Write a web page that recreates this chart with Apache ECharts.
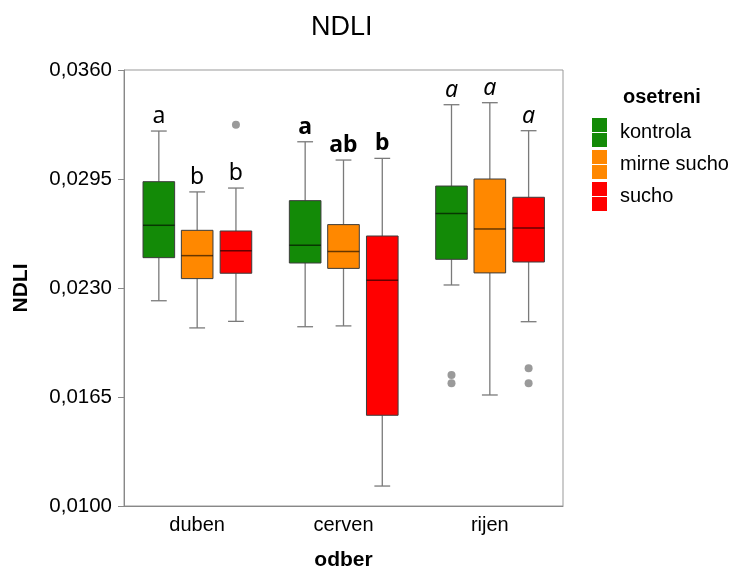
<!DOCTYPE html>
<html><head><meta charset="utf-8">
<script src="https://cdn.jsdelivr.net/npm/echarts@6/dist/echarts.min.js"></script>
<style>html,body{margin:0;padding:0;background:#fff}#c{width:734px;height:570px}</style>
</head><body><div id="c"></div>
<script>
const categories = ['duben', 'cerven', 'rijen'];
const treatments = ['kontrola', 'mirne sucho', 'sucho'];
const yTicks = [0.0100, 0.0165, 0.0230, 0.0295, 0.0360];
// [low whisker, Q1, median, Q3, high whisker] per category
const kontrola   = [[0.02224, 0.02481, 0.02674, 0.02934, 0.03236], [0.02069, 0.02449, 0.02555, 0.02821, 0.03172], [0.02318, 0.02471, 0.02745, 0.02908, 0.03393]];
const mirneSucho = [[0.02062, 0.02356, 0.02493, 0.02644, 0.02873], [0.02074, 0.02417, 0.02517, 0.02678, 0.03063], [0.01662, 0.02390, 0.02652, 0.02950, 0.03405]];
const sucho      = [[0.02101, 0.02388, 0.02522, 0.02640, 0.02896], [0.01119, 0.01541, 0.02346, 0.02610, 0.03073], [0.02099, 0.02455, 0.02658, 0.02841, 0.03238]];
// outliers: [category index, value]
const kontrolaOutliers   = [[2, 0.01781], [2, 0.01732]];
const mirneSuchoOutliers = [];
const suchoOutliers      = [[0, 0.03274], [2, 0.01821], [2, 0.01732]];
// significance letters per category
const kontrolaLetters   = ['a', 'a', 'a'];
const mirneSuchoLetters = ['b', 'ab', 'a'];
const suchoLetters      = ['b', 'b', 'a'];

const colors = ['#138a07', '#ff8800', '#ff0000'];
const offsets = [-0.262, 0, 0.265];
const letterFonts = ['normal 400 23px "Noto Sans"', 'normal 700 23px "Noto Sans"', 'italic 400 23px "Noto Sans"'];
const stats = [kontrola, mirneSucho, sucho];
const outliers = [kontrolaOutliers, mirneSuchoOutliers, suchoOutliers];
const letters = [kontrolaLetters, mirneSuchoLetters, suchoLetters];

function boxRender(s) {
  return function (params, api) {
    const c = api.value(0);
    const band = api.size([1, 0])[0];
    const cx = api.coord([c, 0.02])[0] + offsets[s] * band;
    const hw = band * 0.108;
    const y = i => api.coord([c, api.value(i)])[1];
    const yLow = y(1), yQ1 = y(2), yMed = y(3), yQ3 = y(4), yHigh = y(5);
    const wl = { stroke: '#7a7a7a', lineWidth: 1.3 };
    return {
      type: 'group', children: [
        { type: 'line', shape: { x1: cx, y1: yHigh, x2: cx, y2: yQ3 }, style: wl },
        { type: 'line', shape: { x1: cx, y1: yQ1, x2: cx, y2: yLow }, style: wl },
        { type: 'line', shape: { x1: cx - hw / 2, y1: yHigh, x2: cx + hw / 2, y2: yHigh }, style: wl },
        { type: 'line', shape: { x1: cx - hw / 2, y1: yLow, x2: cx + hw / 2, y2: yLow }, style: wl },
        { type: 'rect', shape: { x: cx - hw, y: yQ3, width: 2 * hw, height: yQ1 - yQ3 }, style: { fill: colors[s], stroke: '#3c3c3c', lineWidth: 1 } },
        { type: 'line', shape: { x1: cx - hw, y1: yMed, x2: cx + hw, y2: yMed }, style: { stroke: 'rgba(0,0,0,0.6)', lineWidth: 1.5 } },
        { type: 'text', x: cx, y: yHigh - 3, style: { text: letters[s][params.dataIndex], font: letterFonts[c], fill: '#000', align: 'center', verticalAlign: 'bottom' } }
      ]
    };
  };
}
function outlierRender(s) {
  return function (params, api) {
    const c = api.value(0);
    const band = api.size([1, 0])[0];
    const p = api.coord([c, api.value(1)]);
    return { type: 'circle', shape: { cx: p[0] + offsets[s] * band, cy: p[1], r: 4 }, style: { fill: '#9a9a9a' } };
  };
}

const series = [];
treatments.forEach((name, s) => {
  series.push({
    name: name, type: 'custom', renderItem: boxRender(s),
    itemStyle: { color: colors[s] },
    encode: { x: 0, y: [1, 2, 3, 4, 5] },
    data: stats[s].map((r, i) => [i].concat(r))
  });
  series.push({
    name: name + '_out', type: 'custom', renderItem: outlierRender(s),
    encode: { x: 0, y: 1 },
    data: outliers[s]
  });
});

const chart = echarts.init(document.getElementById('c'), null, { renderer: 'canvas' });
chart.setOption({
  animation: false,
  backgroundColor: '#fff',
  textStyle: { fontFamily: '"Liberation Sans", Arial, sans-serif' },
  grid: { left: 124, right: 171, top: 70, bottom: 64, show: true, borderColor: '#999', borderWidth: 1, outerBoundsMode: 'none', containLabel: false },
  graphic: [
    { type: 'text', left: 343 - 32, top: 14, style: { text: 'NDLI', font: '27px "Liberation Sans", Arial', fill: '#000' } },
    { type: 'text', left: 623, top: 87, style: { text: 'osetreni', font: 'bold 20px "Liberation Sans", Arial', fill: '#000' } }
  ],
  legend: {
    data: treatments, orient: 'vertical', left: 592, top: 118, padding: 0,
    itemWidth: 15, itemHeight: 29, itemGap: 3,
    icon: 'path://M0,0H15V14H0Z M0,15H15V29H0Z',
    textStyle: { fontSize: 20, color: '#000', padding: [0, 0, 0, 8], fontFamily: '"Liberation Sans", Arial' }
  },
  xAxis: {
    type: 'category', data: categories,
    name: 'odber', nameLocation: 'middle', nameGap: 44,
    nameTextStyle: { fontSize: 21, fontWeight: 'bold', color: '#000' },
    axisLine: { lineStyle: { color: '#888' } },
    axisTick: { alignWithLabel: true, length: 5, lineStyle: { color: '#888' } },
    axisLabel: { fontSize: 20, color: '#000', margin: 9 },
    splitLine: { show: false }
  },
  yAxis: {
    type: 'value', min: 0.010, max: 0.036,
    name: 'NDLI', nameLocation: 'middle', nameGap: 92, nameRotate: 90,
    nameTextStyle: { fontSize: 21, fontWeight: 'bold', color: '#000' },
    axisLine: { show: true, lineStyle: { color: '#888' } },
    axisTick: { show: true, length: 6, customValues: yTicks, lineStyle: { color: '#888' } },
    axisLabel: { fontSize: 20.5, color: '#000', margin: 12, customValues: yTicks, formatter: v => v.toFixed(4).replace('.', ',') },
    splitLine: { show: false }
  },
  series: series
});
</script>
</body></html>
